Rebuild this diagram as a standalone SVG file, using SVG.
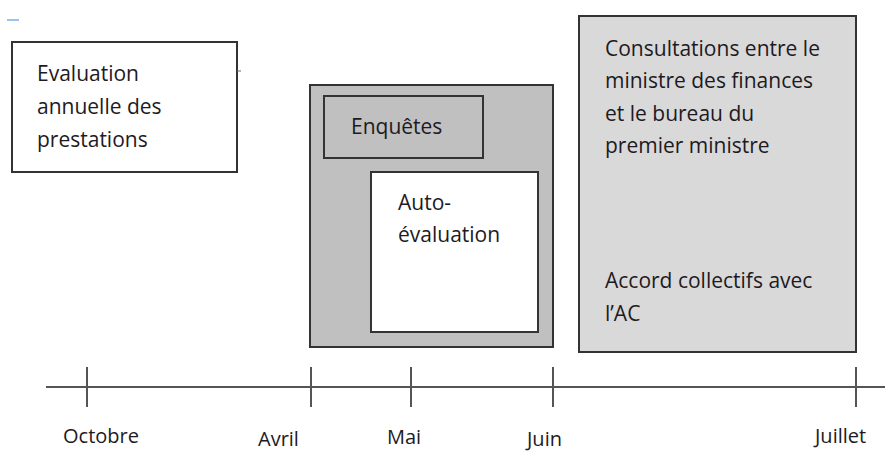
<svg xmlns="http://www.w3.org/2000/svg" width="885" height="453" viewBox="0 0 885 453">
<style>
text{font-family:"Open Sans",Lato,sans-serif;font-size:21px;fill:#1e1a22}
.lbl{font-size:20px}
.box{stroke:#333;stroke-width:2}
.axis{stroke:#555;stroke-width:2;fill:none}
</style>
<rect width="885" height="453" fill="#fff"/>
<line x1="7" y1="20" x2="19" y2="20" stroke="#9cc3f0" stroke-width="2"/>
<g id="evaluation">
<rect class="box" x="12" y="42" width="225" height="130" fill="#fff"/>
<line x1="237" y1="71" x2="241" y2="71" stroke="#666" stroke-width="1"/>
<text x="37" y="81">Evaluation</text>
<text x="37" y="114">annuelle des</text>
<text x="37" y="147">prestations</text>
</g>
<g id="group-avril-juin">
<rect class="box" x="310" y="85" width="243" height="262" fill="#c0c0c0"/>
</g>
<g id="enquetes">
<rect class="box" x="324" y="96" width="159" height="62" fill="#c0c0c0"/>
<text x="351" y="134">Enquêtes</text>
</g>
<g id="auto-evaluation">
<rect class="box" x="371" y="172" width="167" height="160" fill="#fff"/>
<text x="398" y="210">Auto-</text>
<text x="398" y="242">évaluation</text>
</g>
<g id="consultations">
<rect class="box" x="579" y="16" width="277" height="336" fill="#d9d9d9"/>
<text x="605" y="56">Consultations entre le</text>
<text x="605" y="88">ministre des finances</text>
<text x="605" y="121">et le bureau du</text>
<text x="605" y="153">premier ministre</text>
<text x="605" y="288">Accord collectifs avec</text>
<text x="605" y="321">l’AC</text>
</g>
<g id="connectors">
<line class="axis" x1="46" y1="387" x2="885" y2="387"/>
<line class="axis" x1="87" y1="367" x2="87" y2="407"/>
<line class="axis" x1="311" y1="367" x2="311" y2="407"/>
<line class="axis" x1="411" y1="367" x2="411" y2="407"/>
<line class="axis" x1="553" y1="367" x2="553" y2="407"/>
<line class="axis" x1="856" y1="367" x2="856" y2="407"/>
</g>
<g id="labels">
<text class="lbl" x="63" y="443">Octobre</text>
<text class="lbl" x="258" y="446">Avril</text>
<text class="lbl" x="527" y="446">Juin</text>
<text class="lbl" x="387" y="444">Mai</text>
<text class="lbl" x="815" y="443">Juillet</text>
</g>
</svg>
